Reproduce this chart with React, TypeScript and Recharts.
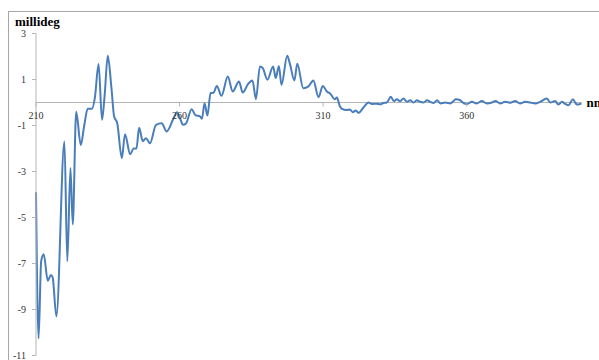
import { LineChart, Line, XAxis, YAxis, ReferenceLine, ReferenceDot } from "recharts";

// CD spectrum, wavelength in nm vs ellipticity in millideg
const wavelength = [
  210.0, 210.9, 211.8, 212.7, 214.1, 215.2, 215.8, 217.1, 219.9, 220.9,
  222.0, 222.8, 224.0, 225.6, 226.8, 228.0, 229.5, 230.5, 231.8, 233.0,
  233.9, 235.0, 236.3, 237.2, 238.3, 239.9, 241.0, 242.8, 244.0, 245.0,
  245.9, 247.2, 248.3, 249.7, 251.8, 253.8, 255.5, 257.8, 259.1, 260.2,
  261.2, 262.3, 264.2, 265.5, 267.1, 267.8, 268.7, 269.7, 270.8, 271.8,
  273.0, 274.6, 276.8, 278.5, 280.7, 282.0, 283.9, 285.4, 286.6, 288.0,
  289.0, 290.6, 292.6, 293.5, 294.6, 295.5, 297.5, 298.4, 300.0, 301.0,
  303.1, 304.9, 306.6, 308.4, 309.9, 311.3, 312.5, 314.1, 314.8, 315.8,
  316.6, 318.2, 319.3, 320.3, 321.4, 322.3, 324.0, 325.8, 327.0, 328.6,
  329.9, 331.0, 332.2, 333.6, 334.6, 335.7, 336.8, 338.0, 339.2, 340.3,
  341.5, 342.7, 343.8, 345.0, 346.2, 347.3, 348.5, 349.7, 350.8, 352.6,
  354.3, 355.4, 356.2, 357.8, 358.3, 360.0, 361.8, 363.5, 365.3, 367.0,
  368.8, 370.0, 371.7, 373.4, 375.2, 376.9, 378.6, 380.4, 382.1, 383.9,
  385.6, 387.9, 389.1, 390.8, 392.0, 393.2, 394.3, 395.5, 397.0, 398.1,
  398.8, 400.0,
];

const millideg = [
  -3.9, -10.25, -6.9, -6.6, -7.75, -7.5, -7.6, -9.3, -1.7, -6.9,
  -2.85, -5.3, -0.4, -1.85, -1.0, -0.27, -0.27, 0.2, 1.67, -0.75,
  0.3, 2.03, 0.6, -0.6, -0.9, -2.42, -1.38, -2.25, -2.0, -2.0,
  -1.1, -1.68, -1.55, -1.77, -0.97, -0.9, -1.26, -0.72, -0.42, -0.7,
  -0.97, -0.9, -0.29, -0.55, -0.6, -0.71, -0.03, -0.57, 0.41, 0.42,
  0.72, 0.29, 1.13, 0.48, 0.91, 0.43, 0.81, 0.96, 0.15, 1.57,
  1.49, 0.99, 1.57, 1.06, 1.59, 0.77, 2.03, 1.7, 0.96, 1.68,
  0.62, 0.7, 0.96, 0.23, 0.72, 0.48, 0.38, 0.14, 0.22, -0.15,
  -0.28, -0.33, -0.3, -0.42, -0.35, -0.45, -0.23, 0.0, -0.07, -0.05,
  -0.08, -0.02, 0.0, 0.25, 0.06, 0.14, 0.05, 0.17, 0.03, 0.1,
  0.0, 0.1, 0.03, 0.0, 0.1, 0.03, -0.02, 0.1, -0.04, 0.0,
  -0.04, 0.06, 0.14, 0.1, 0.03, -0.07, 0.03, -0.04, 0.06, -0.04,
  0.0, 0.06, -0.04, 0.03, -0.01, 0.06, -0.04, 0.03, 0.0, -0.04,
  0.03, 0.17, 0.0, 0.06, -0.09, 0.03, -0.06, -0.12, 0.14, -0.06,
  -0.09, -0.04,
];

const xTicks = [210, 260, 310, 360];
const yTicks = [3, 1, -1, -3, -5, -7, -9, -11];

const chartData = wavelength.map((nm, i) => ({ nm, mdeg: millideg[i] }));

const FONT = '"Liberation Serif", "Times New Roman", serif';
const AXIS_GRAY = "#b5b5b5";

function XTick(label: number) {
  return (props: any) => {
    const { cx, cy } = props;
    return (
      <g>
        <line x1={cx} y1={cy} x2={cx} y2={cy + 4} stroke={AXIS_GRAY} />
        <text x={cx} y={cy + 16} textAnchor="middle" fontSize={10} fontFamily={FONT} fill="#333">
          {label}
        </text>
      </g>
    );
  };
}

export default function App() {
  return (
    <div
      style={{
        position: "absolute",
        left: 0,
        top: 0,
        width: 599,
        height: 360,
        overflow: "hidden",
        background: "#fff",
      }}
    >
      <div
        style={{
          position: "absolute",
          left: 8,
          top: 11,
          width: 700,
          height: 500,
          border: "1px solid #a6a6a6",
        }}
      />
      <div
        style={{
          position: "absolute",
          left: 15,
          top: 14,
          font: `bold 13px ${FONT}`,
          color: "#000",
        }}
      >
        millideg
      </div>
      <div style={{ position: "absolute", left: 0, top: 0 }}>
        <LineChart
          width={599}
          height={360}
          data={chartData}
          margin={{ top: 33.5, right: 17.5, bottom: 4.5, left: 0 }}
        >
          <XAxis dataKey="nm" type="number" domain={[210, 400]} hide />
          <YAxis
            type="number"
            domain={[-11, 3]}
            ticks={yTicks}
            width={36}
            axisLine={{ stroke: AXIS_GRAY }}
            tickLine={{ stroke: AXIS_GRAY }}
            tickSize={4}
            tickMargin={6}
            tick={{ fontSize: 10, fontFamily: FONT, fill: "#333" }}
            interval={0}
          />
          <ReferenceLine
            y={0}
            stroke={AXIS_GRAY}
            label={{
              value: "nm",
              position: "right",
              offset: 5,
              fontSize: 13,
              fontWeight: "bold",
              fontFamily: FONT,
              fill: "#000",
            }}
          />
          {xTicks.map((t) => (
            <ReferenceDot key={t} x={t} y={0} r={0} shape={XTick(t)} />
          ))}
          <Line
            type="monotone"
            dataKey="mdeg"
            stroke="#4a7ebb"
            strokeWidth={2}
            dot={false}
            isAnimationActive={false}
          />
        </LineChart>
      </div>
    </div>
  );
}
